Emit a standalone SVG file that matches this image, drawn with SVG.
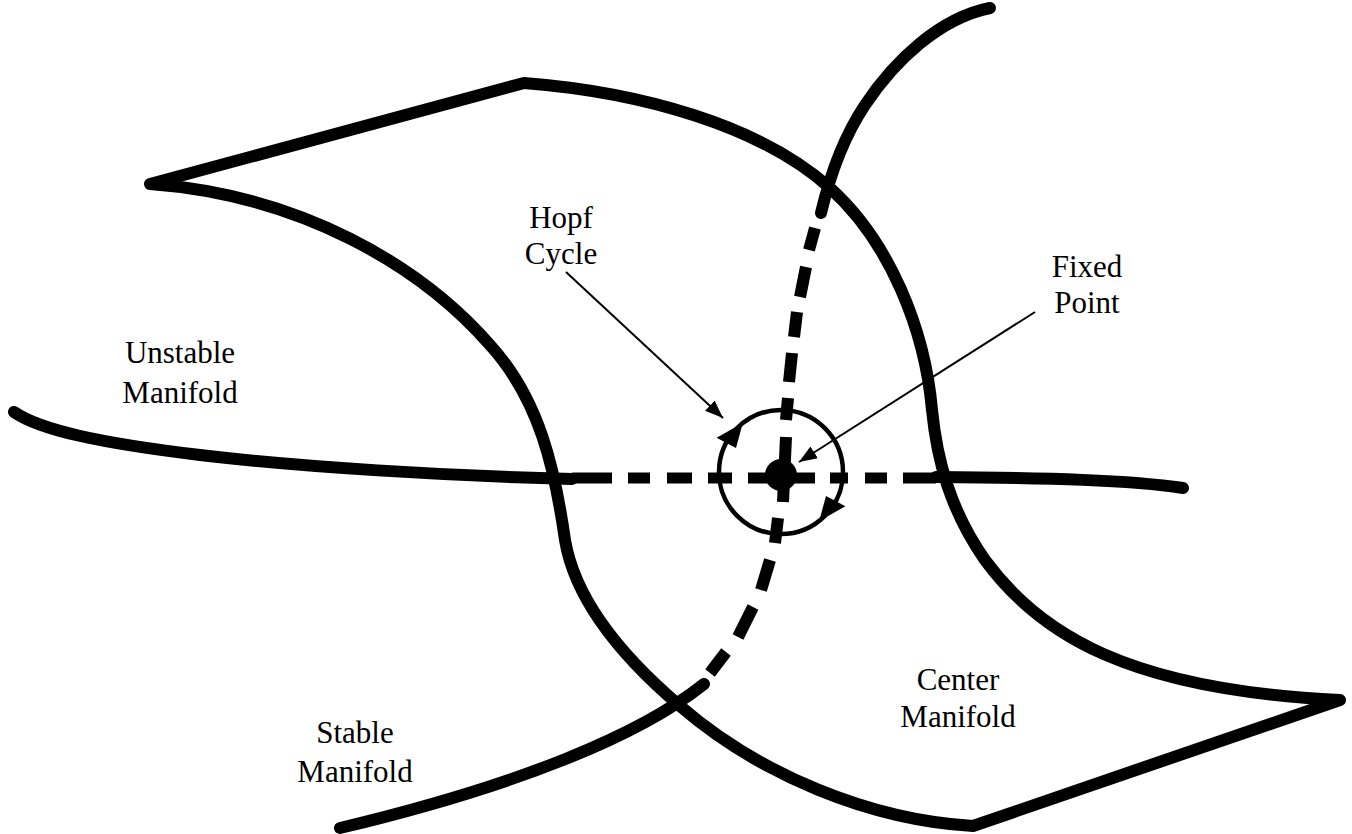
<svg xmlns="http://www.w3.org/2000/svg" width="1352" height="834" viewBox="0 0 1352 834">
<style>
.thick{fill:none;stroke:#000;stroke-width:12;stroke-linecap:round;stroke-linejoin:round}
.dash{fill:none;stroke:#000;stroke-width:12;stroke-linecap:butt}
.hdash{fill:none;stroke:#000;stroke-width:11;stroke-linecap:butt}
.thin{fill:none;stroke:#000;stroke-width:2}
.lbl{font-family:"Liberation Serif","Times New Roman",serif;font-size:31px;fill:#000;text-anchor:middle}
</style>
<defs>
<marker id="ah" markerUnits="userSpaceOnUse" markerWidth="20" markerHeight="16" refX="18" refY="8" orient="auto">
<path d="M0,1 L18,8 L0,15 Z" fill="#000"/>
</marker>
</defs>
<rect width="1352" height="834" fill="#fff"/>

<g id="center-manifold">
<path class="thick" d="M150,184 L524,83 C640,92 760,125 830,188 C890,242 925,330 932,410 C937,460 950,510 985,560 C1040,635 1130,690 1340,700 L973,826 C870,820 760,775 680,706 C620,655 575,600 565,540 C555,470 540,400 490,345 C420,265 300,195 150,184 Z"/>
</g>

<g id="unstable-manifold">
<path class="thick" d="M14,412 C40,430 100,443 200,455 S450,476 572,479"/>
<path class="thick" d="M936,477 C1050,478 1130,480 1183,488"/>
<g class="hdash">
<line x1="572" y1="478" x2="612" y2="478"/>
<line x1="628" y1="478" x2="650" y2="478"/>
<line x1="667" y1="478" x2="692" y2="478"/>
<line x1="708" y1="478" x2="732" y2="478"/>
<line x1="748" y1="478" x2="815" y2="478"/>
<line x1="830" y1="478" x2="848" y2="478"/>
<line x1="865" y1="478" x2="887" y2="478"/>
<line x1="903" y1="478" x2="936" y2="478"/>
</g>
</g>

<g id="stable-manifold">
<path class="thick" d="M990,8 C940,18 895,60 865,105 C845,135 830,175 821,213"/>
<g class="dash">
<line x1="815" y1="228" x2="809" y2="250"/>
<line x1="806" y1="267" x2="800" y2="297"/>
<line x1="797" y1="312" x2="794" y2="337"/>
<line x1="792" y1="353" x2="789" y2="382"/>
<line x1="788" y1="398" x2="786" y2="420"/>
<line x1="786" y1="437" x2="783" y2="502"/>
<line x1="778" y1="518" x2="775" y2="543"/>
<line x1="770" y1="560" x2="761" y2="590"/>
<line x1="753" y1="607" x2="738" y2="637"/>
<line x1="726" y1="652" x2="710" y2="673"/>
</g>
<path class="thick" d="M704,684 C640,735 520,785 340,828"/>
</g>

<g id="fixed-point">
<circle cx="781" cy="475" r="16" fill="#000"/>
</g>

<g id="hopf-cycle">
<circle cx="781" cy="472" r="62" fill="none" stroke="#000" stroke-width="4.5"/>
<path d="M742.8,423.1 L716.6,437.7 L736.0,448.1 Z" fill="#000"/>
<path d="M819.2,520.9 L845.4,506.3 L826.0,495.9 Z" fill="#000"/>
</g>

<g id="leaders">
<line class="thin" x1="566" y1="272" x2="723" y2="418" marker-end="url(#ah)"/>
<line class="thin" x1="1035" y1="312" x2="799" y2="462" marker-end="url(#ah)"/>
</g>

<g id="labels">
<text class="lbl" x="561" y="228">Hopf</text>
<text class="lbl" x="561" y="264">Cycle</text>
<text class="lbl" x="1087" y="277">Fixed</text>
<text class="lbl" x="1087" y="313">Point</text>
<text class="lbl" x="180" y="363">Unstable</text>
<text class="lbl" x="180" y="403">Manifold</text>
<text class="lbl" x="355" y="743">Stable</text>
<text class="lbl" x="355" y="782">Manifold</text>
<text class="lbl" x="958" y="690">Center</text>
<text class="lbl" x="958" y="727">Manifold</text>
</g>
</svg>
